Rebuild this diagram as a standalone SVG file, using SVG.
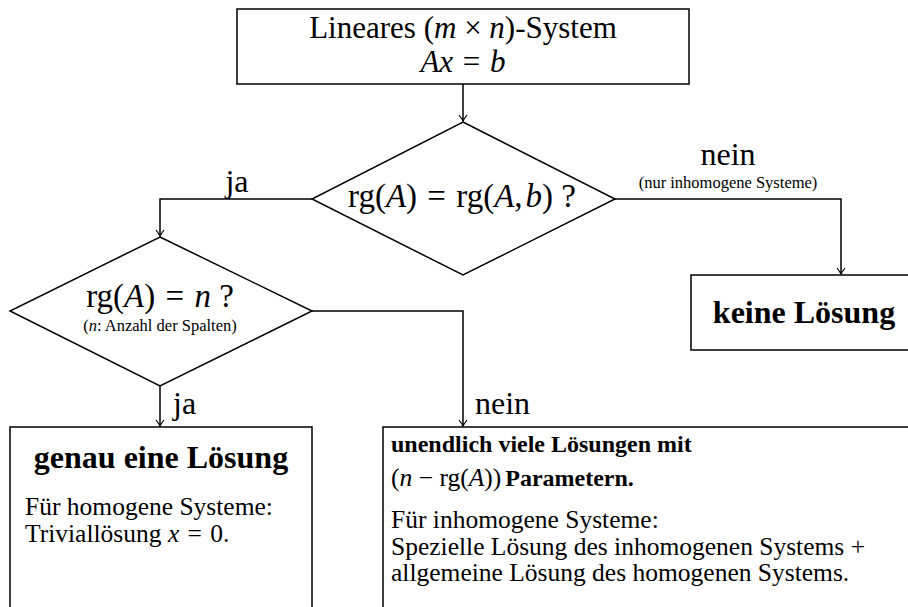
<svg xmlns="http://www.w3.org/2000/svg" width="908" height="607" viewBox="0 0 908 607">
<defs>
<marker id="arr" viewBox="-8 -5 10 10" refX="0" refY="0" markerWidth="10" markerHeight="10" markerUnits="userSpaceOnUse" orient="auto">
<path d="M -6 -4 Q -2 -1 0 0 Q -2 1 -6 4" fill="none" stroke="#000" stroke-width="1.2"/>
</marker>
<style>
.sh{fill:#fff;stroke:#000;stroke-width:1.5}
.ln{fill:none;stroke:#000;stroke-width:1.5}
text{font-family:"Liberation Serif","Times New Roman",serif;fill:#000}
.big{font-size:31px}
.mid{font-size:32px}
.dm{font-size:33px}
.bb{font-size:32px;font-weight:bold}
.body{font-size:25.5px}
.bbody{font-size:24px;font-weight:bold}
.sm{font-size:16.5px}
.i{font-style:italic}
</style>
</defs>
<g id="connectors">
<path class="ln" d="M463 84 L463 121" marker-end="url(#arr)"/>
<path class="ln" d="M312 199 L160 199 L160 236" marker-end="url(#arr)"/>
<path class="ln" d="M615 199 L841 199 L841 274" marker-end="url(#arr)"/>
<path class="ln" d="M160 386 L160 426" marker-end="url(#arr)"/>
<path class="ln" d="M312 311 L463 311 L463 426" marker-end="url(#arr)"/>
<text class="mid" x="237" y="192" text-anchor="middle">ja</text>
<text class="mid" x="728" y="165" text-anchor="middle">nein</text>
<text class="sm" x="728" y="188" text-anchor="middle">(nur inhomogene Systeme)</text>
<text class="mid" x="173" y="414">ja</text>
<text class="mid" x="475" y="414">nein</text>
</g>
<g id="start">
<rect class="sh" x="237" y="9" width="452" height="75"/>
<text class="big" x="463" y="38" text-anchor="middle">Lineares (<tspan class="i">m</tspan> × <tspan class="i">n</tspan>)-System</text>
<text class="big" x="463" y="72" text-anchor="middle"><tspan class="i">Ax</tspan> <tspan dx="2">=</tspan> <tspan dx="2" class="i">b</tspan></text>
</g>
<g id="decision1">
<polygon class="sh" points="463,122 615,199 463,275 312,199"/>
<text class="dm" x="462" y="207" text-anchor="middle">rg(<tspan class="i">A</tspan>) <tspan dx="2">=</tspan> <tspan dx="2">rg(</tspan><tspan class="i">A</tspan>,<tspan dx="3" class="i">b</tspan>) ?</text>
</g>
<g id="decision2">
<polygon class="sh" points="160,237 312,311 160,386 10,311"/>
<text class="dm" x="160" y="307" text-anchor="middle">rg(<tspan class="i">A</tspan>) <tspan dx="2">=</tspan> <tspan dx="2" class="i">n</tspan> ?</text>
<text class="sm" x="160" y="331" text-anchor="middle">(<tspan class="i">n</tspan>: Anzahl der Spalten)</text>
</g>
<g id="keine">
<rect class="sh" x="691" y="275" width="230" height="75"/>
<text class="bb" x="804" y="323" text-anchor="middle">keine Lösung</text>
</g>
<g id="genau">
<rect class="sh" x="10" y="427" width="302" height="200"/>
<text class="bb" x="161" y="468" text-anchor="middle">genau eine Lösung</text>
<text class="body" x="25" y="515">Für homogene Systeme:</text>
<text class="body" x="25" y="541.5">Triviallösung <tspan class="i">x</tspan> <tspan dx="2">=</tspan> <tspan dx="2">0.</tspan></text>
</g>
<g id="unendlich">
<rect class="sh" x="383" y="427" width="540" height="200"/>
<text class="bbody" x="391" y="452">unendlich viele Lösungen mit</text>
<text x="391" y="486"><tspan class="body">(<tspan class="i">n</tspan> − rg(<tspan class="i">A</tspan>))</tspan> <tspan class="bbody">Parametern.</tspan></text>
<text class="body" x="391" y="528">Für inhomogene Systeme:</text>
<text class="body" x="391" y="554.5">Spezielle Lösung des inhomogenen Systems +</text>
<text class="body" x="391" y="581">allgemeine Lösung des homogenen Systems.</text>
</g>
</svg>
